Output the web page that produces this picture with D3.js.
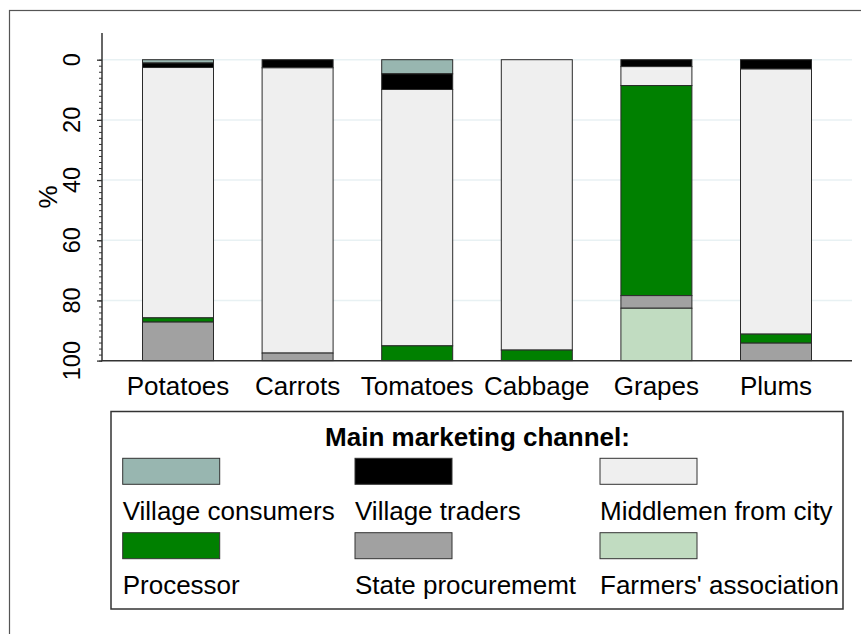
<!DOCTYPE html>
<html>
<head>
<meta charset="utf-8">
<script src="https://cdn.jsdelivr.net/npm/d3@7"></script>
<style>
  html, body { margin: 0; padding: 0; background: #fff; }
  svg { display: block; font-family: "Liberation Sans", Arial, sans-serif; }
</style>
</head>
<body>
<svg id="chart" width="861" height="634"></svg>
<script>
const categories = ["Potatoes", "Carrots", "Tomatoes", "Cabbage", "Grapes", "Plums"];
const seriesNames = ["Village consumers", "Village traders", "Middlemen from city", "Processor", "State procurememt", "Farmers' association"];
const villageConsumers = [1.1, 0, 4.7, 0, 0, 0];
const villageTraders = [1.5, 2.7, 5.2, 0, 2.3, 3.1];
const middlemen = [83.2, 94.8, 85.2, 96.5, 6.3, 88.1];
const processor = [1.4, 0, 4.9, 3.5, 69.8, 3.0];
const stateProcurement = [12.8, 2.5, 0, 0, 4.2, 5.8];
const farmersAssociation = [0, 0, 0, 0, 17.4, 0];
const yTicks = [0, 20, 40, 60, 80, 100];
const colors = ["#98b6b0", "#000000", "#efefef", "#008000", "#a1a1a1", "#c1dcc1"];
const legendTitle = "Main marketing channel:";
const yLabel = "%";

const seriesValues = [villageConsumers, villageTraders, middlemen, processor, stateProcurement, farmersAssociation];
const keys = seriesNames;
const table = categories.map((c, i) => {
  const row = { category: c };
  keys.forEach((k, j) => row[k] = seriesValues[j][i]);
  return row;
});

const svg = d3.select("#chart");

// outer frame
svg.append("rect").attr("x", 9.5).attr("y", 10.5).attr("width", 900).attr("height", 700)
  .attr("fill", "none").attr("stroke", "#555").attr("stroke-width", 1.2);

const x = d3.scaleBand().domain(categories).range([102, 852]).paddingInner(0.4064).paddingOuter(0.3386);
const y = d3.scaleLinear().domain([0, 100]).range([59.7, 360.6]);

// gridlines
svg.append("g").selectAll("line").data(yTicks.filter(t => t < 100)).join("line")
  .attr("x1", 102).attr("x2", 852).attr("y1", d => y(d)).attr("y2", d => y(d))
  .attr("stroke", "#e8f1f3").attr("stroke-width", 1.5);

// bars
const stack = d3.stack().keys(keys);
const stacked = stack(table);
svg.append("g").selectAll("g").data(stacked).join("g")
  .attr("fill", (d, i) => colors[i])
  .selectAll("rect").data(d => d.filter(s => s[1] - s[0] > 0)).join("rect")
  .attr("x", d => x(d.data.category))
  .attr("width", x.bandwidth())
  .attr("y", d => y(d[0]))
  .attr("height", d => y(d[1]) - y(d[0]))
  .attr("stroke", "#2a2a2a").attr("stroke-width", 1);

// y axis
const yAxis = d3.axisLeft(y).tickValues(yTicks).tickSize(5).tickFormat("");
const yg = svg.append("g").attr("transform", "translate(102,0)").call(yAxis);
yg.select(".domain").remove();
yg.selectAll(".tick line").attr("stroke", "#333").attr("stroke-width", 1.3);
const yMinor = d3.axisLeft(y).tickValues(d3.range(0, 101, 2)).tickSize(3).tickFormat("");
const ymg = svg.append("g").attr("transform", "translate(102,0)").call(yMinor);
ymg.select(".domain").remove();
ymg.selectAll(".tick line").attr("stroke", "#333").attr("stroke-width", 1);
svg.append("line").attr("x1", 102).attr("x2", 102).attr("y1", 33).attr("y2", 361.3)
  .attr("stroke", "#333").attr("stroke-width", 1.5);
svg.append("g").selectAll("text").data(yTicks).join("text")
  .attr("transform", d => `translate(80,${y(d)}) rotate(-90)`)
  .attr("text-anchor", "middle").attr("font-size", 23.5).attr("fill", "#000")
  .text(d => d);
svg.append("text").attr("transform", "translate(57,197) rotate(-90)")
  .attr("text-anchor", "middle").attr("font-size", 26).attr("fill", "#000").text(yLabel);

// x axis
svg.append("line").attr("x1", 101.3).attr("x2", 852).attr("y1", 360.7).attr("y2", 360.7)
  .attr("stroke", "#333").attr("stroke-width", 1.5);
svg.append("g").selectAll("text").data(categories).join("text")
  .attr("x", d => x(d) + x.bandwidth() / 2).attr("y", 395)
  .attr("text-anchor", "middle").attr("font-size", 26).attr("fill", "#000")
  .text(d => d);

// legend
const lg = svg.append("g");
lg.append("rect").attr("x", 111).attr("y", 411.5).attr("width", 732).attr("height", 197.5)
  .attr("fill", "#fff").attr("stroke", "#333").attr("stroke-width", 1.5);
lg.append("text").attr("x", 477.5).attr("y", 446).attr("text-anchor", "middle")
  .attr("font-size", 26).attr("font-weight", "bold").attr("fill", "#000").text(legendTitle);
const colX = [122.7, 355, 600];
const rowY = [458.3, 532.7];
const labelY = [520, 594.3];
seriesNames.forEach((name, i) => {
  const c = i % 3, r = Math.floor(i / 3);
  lg.append("rect").attr("x", colX[c]).attr("y", rowY[r]).attr("width", 97).attr("height", 26)
    .attr("fill", colors[i]).attr("stroke", "#333").attr("stroke-width", 1);
  lg.append("text").attr("x", colX[c]).attr("y", labelY[r]).attr("font-size", 26)
    .attr("fill", "#000").text(name);
});
</script>
</body>
</html>
